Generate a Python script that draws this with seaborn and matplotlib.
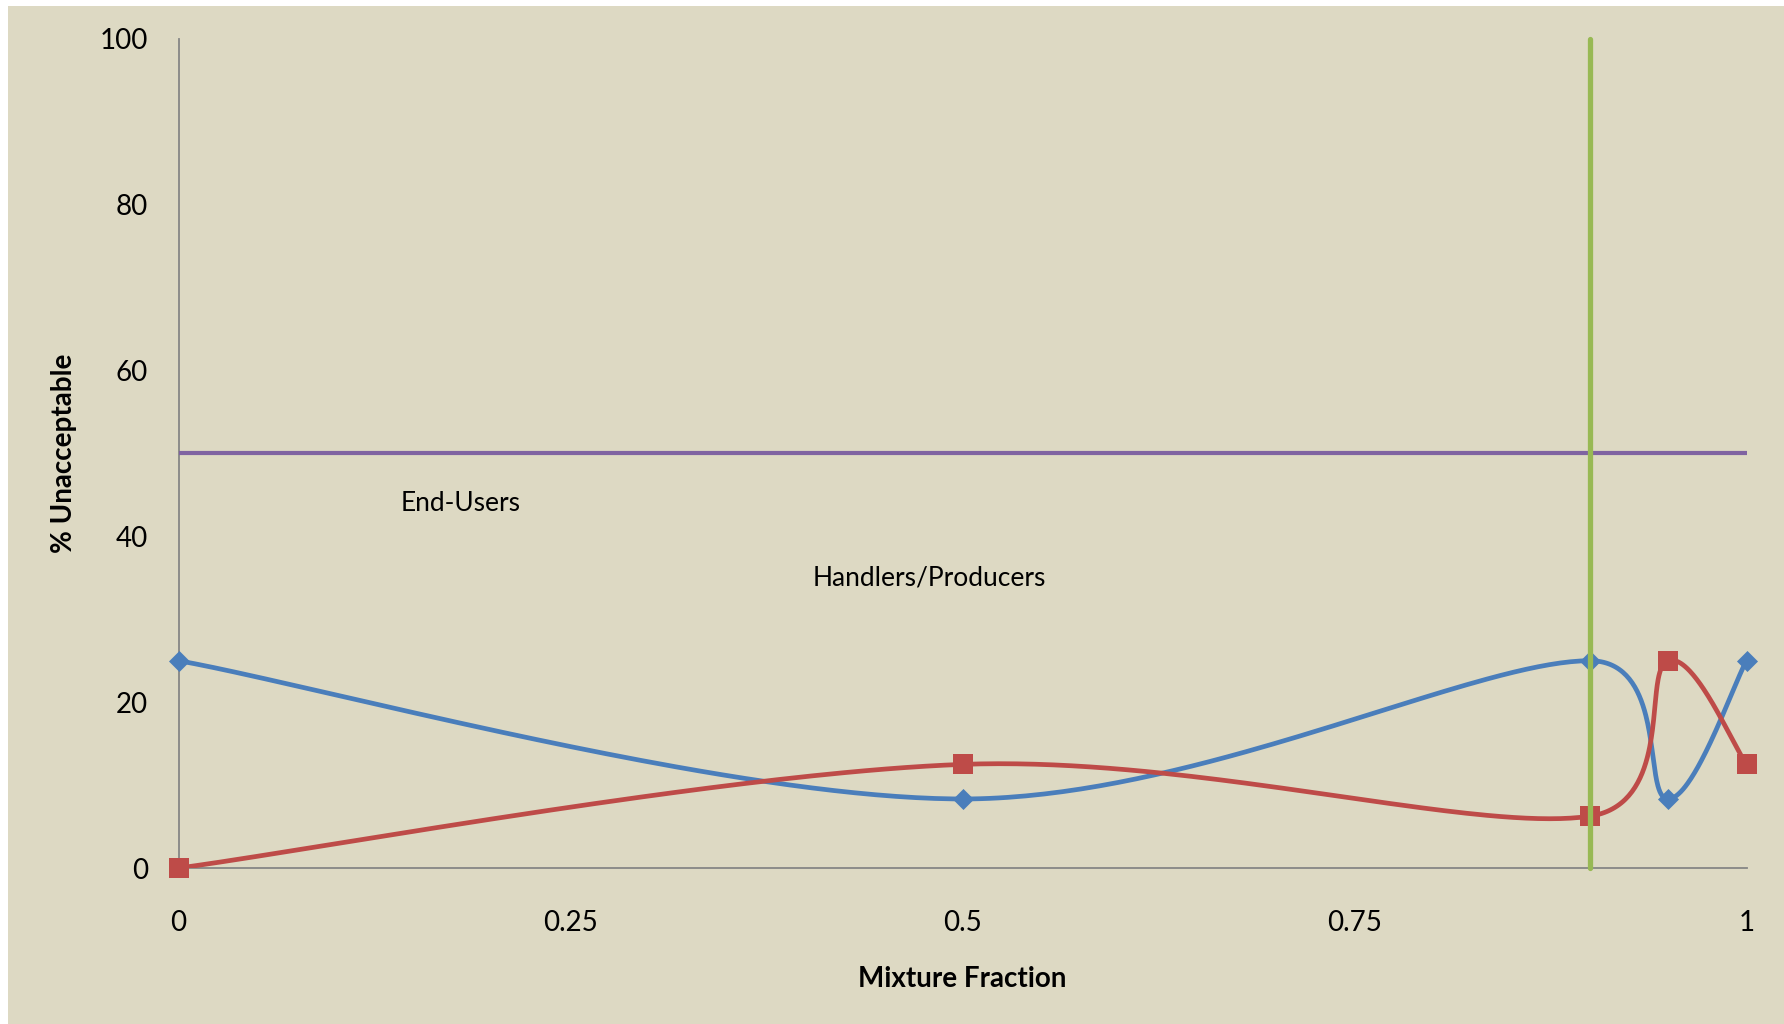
import numpy as np
import pandas as pd
import matplotlib
matplotlib.use("Agg")
import matplotlib.pyplot as plt
from matplotlib.patches import Rectangle
import seaborn as sns

# Survey results: share of respondents finding each mixture unacceptable
mixture = [0.0, 0.5, 0.9, 0.95, 1.0]
end_users = [25.0, 8.33, 25.0, 8.33, 25.0]
handlers = [0.0, 12.5, 6.25, 25.0, 12.5]

# Reference lines: 50 % threshold and the 0.9 mixture fraction
threshold_x = [0.0, 1.0]
threshold_y = [50.0, 50.0]
cutoff_x = [0.9, 0.9]
cutoff_y = [0.0, 100.0]

x_ticks = [0, 0.25, 0.5, 0.75, 1]
x_tick_labels = ["0", "0.25", "0.5", "0.75", "1"]
y_ticks = [0, 20, 40, 60, 80, 100]

BG = "#DDD9C3"
BLUE = "#4A7EBB"
RED = "#BE4B48"
PURPLE = "#7F63A1"
GREEN = "#98B954"
AXIS = "#868686"


def smooth(ax, xs, ys, n=80):
    """Spreadsheet-style smoothed line, built in screen space: cubic Bezier
    segments with Catmull-Rom tangents (1/6), each control arm capped at
    half the segment length."""
    p = ax.transData.transform(np.column_stack([xs, ys]).astype(float))
    ext = np.vstack([p[0], p, p[-1]])
    out = []
    t = np.linspace(0, 1, n)[:, None]
    for i in range(len(p) - 1):
        p0, p1, p2, p3 = ext[i], ext[i + 1], ext[i + 2], ext[i + 3]
        d12 = np.hypot(*(p2 - p1))
        d02 = np.hypot(*(p2 - p0))
        d13 = np.hypot(*(p3 - p1))
        f0 = 1 / 6 if d02 == 0 else min(1 / 6, d12 / (2 * d02))
        f1 = 1 / 6 if d13 == 0 else min(1 / 6, d12 / (2 * d13))
        c1 = p1 + (p2 - p0) * f0
        c2 = p2 - (p3 - p1) * f1
        seg = ((1 - t) ** 3) * p1 + 3 * ((1 - t) ** 2) * t * c1 \
            + 3 * (1 - t) * t ** 2 * c2 + t ** 3 * p2
        out.append(seg if i == 0 else seg[1:])
    c = ax.transData.inverted().transform(np.vstack(out))
    return c[:, 0], c[:, 1]


sns.set_theme(style="white")
plt.rcParams["font.family"] = ["Lato", "DejaVu Sans"]
plt.rcParams["text.color"] = "black"
plt.rcParams["axes.labelcolor"] = "black"

fig = plt.figure(figsize=(17.84, 10.24), dpi=100, facecolor="white")
fig.patches.append(Rectangle((8 / 1784, 0), 1 - 8 / 1784, 1 - 6 / 1024,
                             transform=fig.transFigure, facecolor=BG,
                             edgecolor="none", zorder=-10))
ax = fig.add_axes([0.1001, 0.1523, 0.979 - 0.1001, 0.9622 - 0.1523])
ax.set_facecolor("none")
ax.set_xlim(0, 1)
ax.set_ylim(0, 100)

eu_x, eu_y = smooth(ax, mixture, end_users)
hp_x, hp_y = smooth(ax, mixture, handlers)
curves = pd.DataFrame({"x": eu_x, "y": eu_y})
curves2 = pd.DataFrame({"x": hp_x, "y": hp_y})

sns.lineplot(data=curves, x="x", y="y", sort=False, estimator=None,
             color=BLUE, linewidth=3.4, ax=ax, zorder=3)
sns.scatterplot(x=mixture, y=end_users, marker="D", s=115, color=BLUE,
                linewidth=0, ax=ax, zorder=4, clip_on=False)
sns.lineplot(data=curves2, x="x", y="y", sort=False, estimator=None,
             color=RED, linewidth=3.4, ax=ax, zorder=5)
sns.scatterplot(x=mixture, y=handlers, marker="s", s=195, color=RED,
                linewidth=0, ax=ax, zorder=6, clip_on=False)
sns.lineplot(x=threshold_x, y=threshold_y, color=PURPLE, linewidth=3.0,
             ax=ax, zorder=7)
ax.plot(cutoff_x, cutoff_y, color=GREEN, linewidth=3.8,
        solid_capstyle="round", zorder=8, clip_on=False)

ax.set_xlim(0, 1)
ax.set_ylim(0, 100)
ax.set_xticks(x_ticks)
ax.set_xticklabels(x_tick_labels)
ax.set_yticks(y_ticks)
ax.tick_params(axis="both", length=0, labelsize=20, colors="black")
ax.tick_params(axis="x", pad=30)
ax.tick_params(axis="y", pad=22)

for side in ("top", "right"):
    ax.spines[side].set_visible(False)
for side in ("left", "bottom"):
    ax.spines[side].set_color(AXIS)
    ax.spines[side].set_linewidth(1.3)
    ax.spines[side].set_zorder(2)

ax.set_xlabel("Mixture Fraction", fontsize=20, fontweight="bold", labelpad=22)
ax.set_ylabel("% Unacceptable", fontsize=20, fontweight="bold", labelpad=16)

ax.text(0.1418, 44.0, "End-Users", fontsize=19, va="center", ha="left")
ax.text(0.4046, 35.0, "Handlers/Producers", fontsize=19, va="center",
        ha="left")

fig.savefig("out.png", dpi=100, facecolor="white")
